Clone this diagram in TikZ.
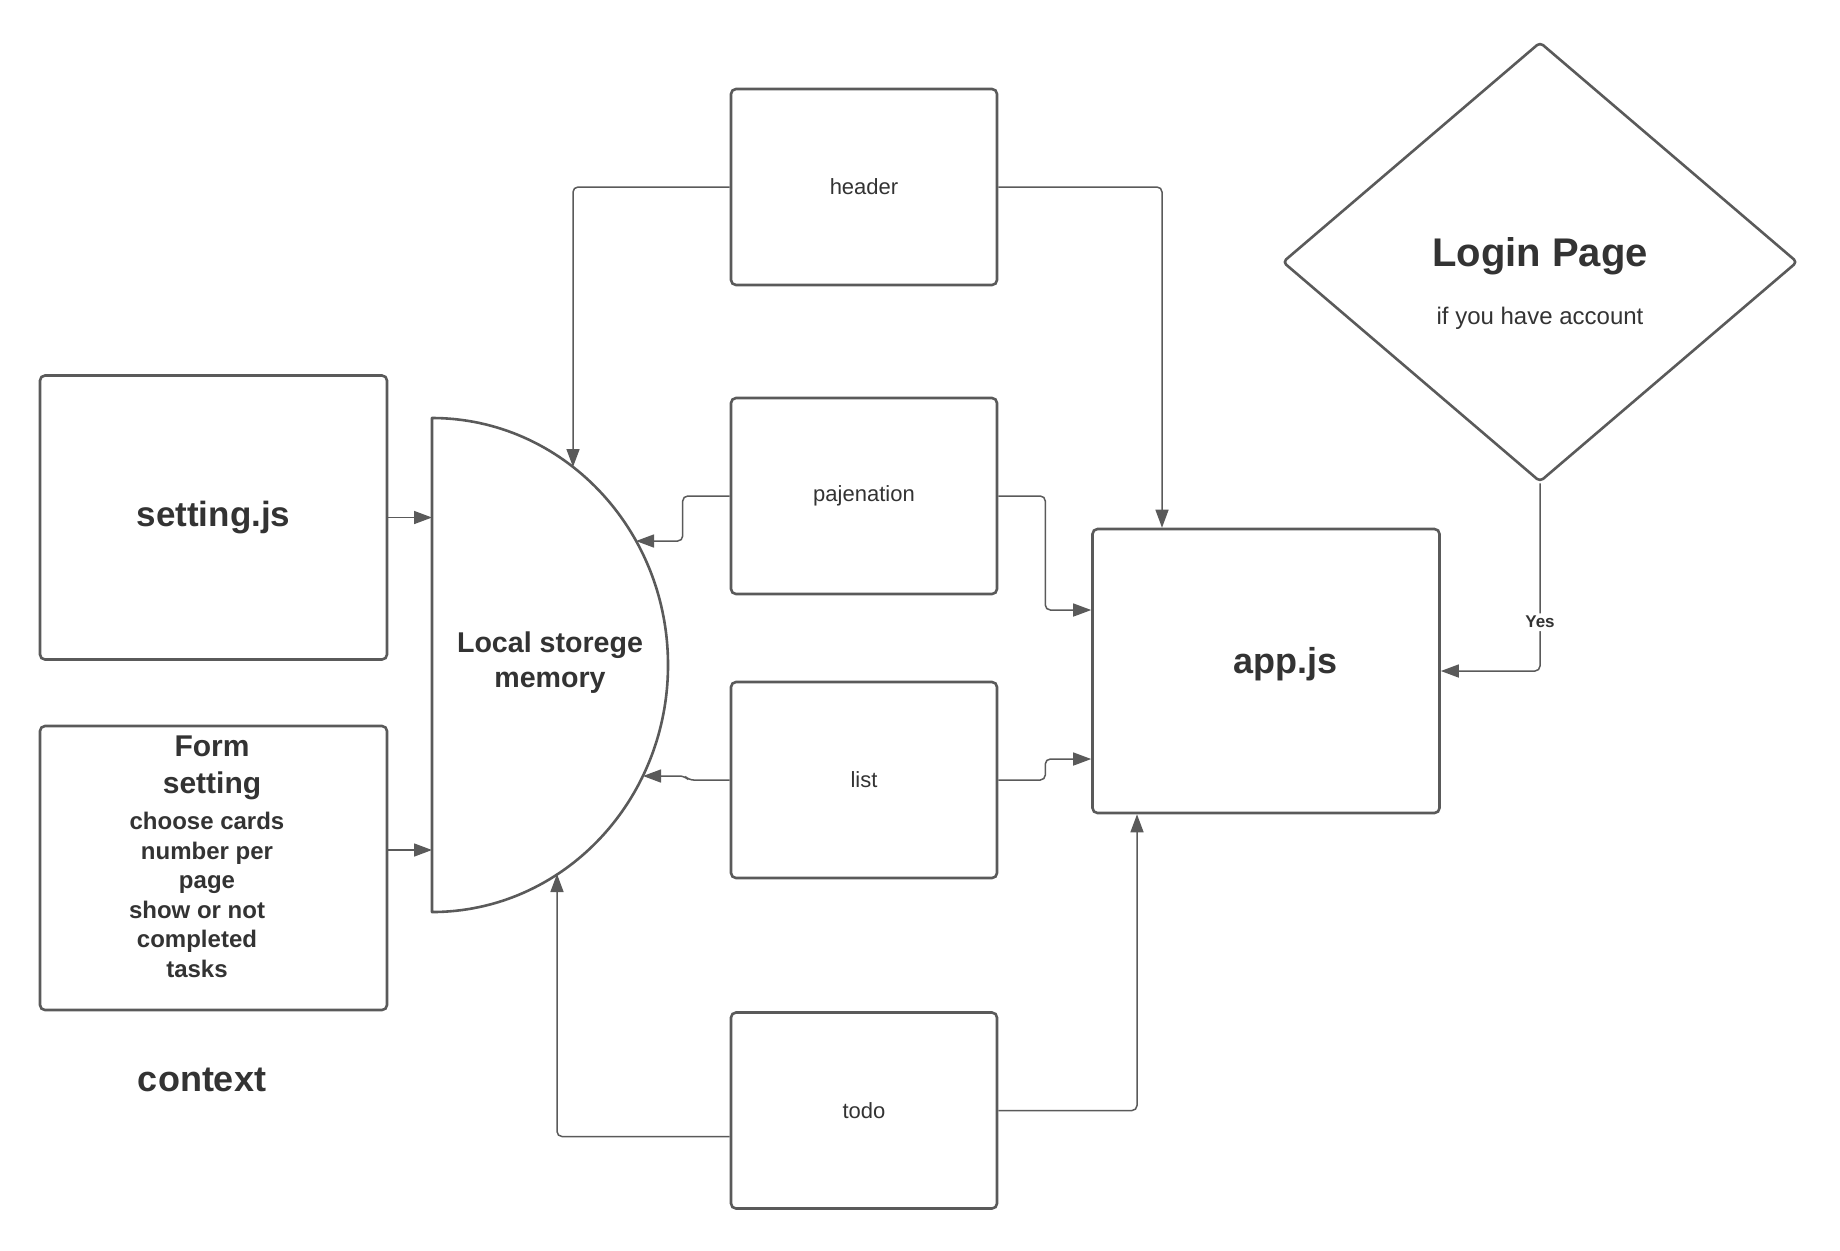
\documentclass[tikz,border=0pt]{standalone}
\usepackage{fontspec}
\setmainfont{Liberation Sans}
\usetikzlibrary{arrows.meta,shapes.geometric}
\definecolor{linegray}{HTML}{5A5A5A}
\definecolor{textgray}{HTML}{333333}

\begin{document}
\begin{tikzpicture}[x=0.5pt,y=-0.5pt,
  box/.style={draw=linegray,line width=1.3pt,rounded corners=2.5pt,minimum width=133pt,minimum height=98pt,inner sep=0pt,text=textgray,font=\fontsize{11}{13}\selectfont},
  bigbox/.style={box,minimum width=173.5pt,minimum height=142pt},
  shapeline/.style={draw=linegray,line width=1.3pt,line join=round},
  conn/.style={draw=linegray,line width=0.75pt,rounded corners=2.5pt,-{Triangle[length=9pt,width=6.5pt]}},
  bigtext/.style={text=textgray,font=\bfseries\fontsize{18}{22}\selectfont},
  midtext/.style={text=textgray,align=center,font=\bfseries\fontsize{14.3}{17.5}\selectfont},
  formhead/.style={text=textgray,align=center,font=\bfseries\fontsize{15}{18.8}\selectfont},
  formbody/.style={text=textgray,align=center,font=\bfseries\fontsize{12}{14.7}\selectfont},
  yes/.style={fill=white,text=textgray,inner sep=1.5pt,font=\bfseries\fontsize{8.5}{10}\selectfont}]
\useasboundingbox (0,0) rectangle (1840,1250);
\node[bigbox,font=\bfseries\fontsize{17.5}{21}\selectfont] (setjs) at (213.5,517.5) {setting.js};
\node[bigbox] (form) at (213.5,868) {};
\node[formhead] (formt) at (212,768) {Form\\setting};
\node[formbody] (forma) at (207,853) {choose cards\\number per\\page};
\node[formbody] (formb) at (197,939) {show or not\\completed\\tasks};
\node[bigtext] (context) at (202,1080) {context};
\draw[shapeline] (432,418) -- (432,912) arc[start angle=90,end angle=-90,x radius=236,y radius=247] -- cycle;
\coordinate (memc) at (432,665);
\node[midtext] (mem) at (550,663) {Local storege\\memory};
\coordinate (mN) at (573,467);
\coordinate (mE1) at (636,541);
\coordinate (mE2) at (643,776);
\coordinate (mS) at (557,874);
\node[box] (header) at (864,187) {header};
\node[box] (pag) at (864,496) {pajenation};
\node[box] (list) at (864,780) {list};
\node[box] (todo) at (864,1110.5) {todo};
\node[bigbox] (app) at (1266,671) {};
\node[bigtext] (apptxt) at (1285,664) {app.js};
\node[diamond,shapeline,rounded corners=2pt,minimum width=257.5pt,minimum height=220pt,inner sep=0pt] (login) at (1540,262) {};
\node[text=textgray,font=\bfseries\fontsize{20}{24}\selectfont] (logint) at (1540,256) {Login Page};
\node[text=textgray,font=\fontsize{12}{14}\selectfont] (logins) at (1540,318) {if you have account};
\draw[conn] (setjs.east) -- (setjs.east -| memc);
\draw[conn] ([yshift=9pt]form.east) -- ([yshift=9pt]form.east -| memc);
\draw[conn] (header.west) -| (mN);
\draw[conn] (header.east) -| ([xshift=-52pt]app.north);
\draw[conn] (pag.west) -- ++(-47,0) |- (mE1);
\draw[conn] (pag.east) -- ++(47,0) |- ([yshift=30.5pt]app.west);
\draw[conn] (list.west) -- ++(-41,0) -- ++(-4,-4) -- (mE2);
\draw[conn] (list.east) -- ++(47,0) |- ([yshift=-44pt]app.west);
\draw[conn] ([yshift=-13pt]todo.west) -| (mS);
\draw[conn] (todo.east) -| ([xshift=-64.5pt]app.south);
\draw[conn] (login.south) |- node[yes,pos=0.37] {Yes} (app.east);
\end{tikzpicture}
\end{document}
